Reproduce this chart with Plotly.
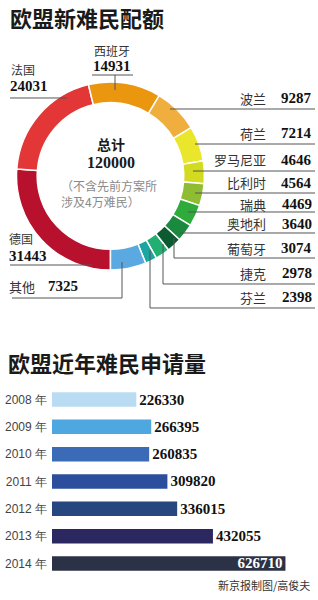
import plotly.graph_objects as go

# ---------------- data ----------------
quota_countries = ["德国", "法国", "西班牙", "波兰", "荷兰", "罗马尼亚", "比利时",
                   "瑞典", "奥地利", "葡萄牙", "捷克", "芬兰", "其他"]
quota_values = [31443, 24031, 14931, 9287, 7214, 4646, 4564, 4469, 3640, 3074, 2978, 2398, 7325]
quota_colors = ["#B8112D", "#E23736", "#EB960F", "#F0AE3F", "#E9E62C", "#D2DB1F", "#8EBD33",
                "#2FAB3C", "#198A3E", "#0C5A2F", "#21AF72", "#1CA6A2", "#5AA9E0"]
quota_total = 120000

years = ["2008 年", "2009 年", "2010 年", "2011 年", "2012 年", "2013 年", "2014 年"]
applications = [226330, 266395, 260835, 309820, 336015, 432055, 626710]
bar_colors = ["#B9DCF3", "#4FA7DF", "#3B6BB6", "#2B4F9C", "#25467F", "#2A2761", "#2C3246"]

# ---------------- layout helpers ----------------
W, H = 318, 600


def px(x):
    return x / W


def py(y):
    return 1 - y / H


CJK = "Noto Sans CJK SC"
SERIF = "Liberation Serif"
LINE_COL = "#555555"

fig = go.Figure()

# donut: center (110.5, 176), outer radius 94
cx, cy, R = 110.5, 176, 94
fig.add_trace(go.Pie(
    labels=quota_countries, values=quota_values,
    marker=dict(colors=quota_colors, line=dict(color="white", width=1.5)),
    hole=0.78, sort=False, direction="clockwise", rotation=180,
    textinfo="none", hoverinfo="label+value", showlegend=False,
    domain=dict(x=[px(cx - R), px(cx + R)], y=[py(cy + R), py(cy - R)]),
))

# bar chart
fig.add_trace(go.Bar(
    x=applications, y=years, orientation="h",
    marker=dict(color=bar_colors, line=dict(width=0)),
    width=0.53,
    text=[str(v) for v in applications],
    textposition=["outside"] * 6 + ["inside"],
    insidetextanchor="end", constraintext="none",
    textfont=dict(family=SERIF, size=15, weight="bold",
                  color=["#111111"] * 6 + ["#FFFFFF"]),
    cliponaxis=False, showlegend=False, xaxis="x", yaxis="y",
))

ann = []
shapes = []


def text(x, y, s, size=13, color="#333333", family=CJK, xanchor="left", bold=False, align="left"):
    ann.append(dict(x=px(x), y=py(y), xref="paper", yref="paper", text=s, showarrow=False,
                    xanchor=xanchor, yanchor="middle", align=align,
                    font=dict(family=family, size=size, color=color,
                              weight="bold" if bold else "normal")))


def poly(points):
    path = "M " + " L ".join(f"{px(x):.5f},{py(y):.5f}" for x, y in points)
    shapes.append(dict(type="path", xref="paper", yref="paper", path=path,
                       line=dict(color=LINE_COL, width=1)))


# titles
text(8, 17, "欧盟新难民配额", size=22, color="#1a1a1a", bold=True)
text(6, 362, "欧盟近年难民申请量", size=22, color="#1a1a1a", bold=True)
text(312, 585, "新京报制图/高俊夫", size=11, color="#333333", xanchor="right")

# center text
text(110.5, 144, "总计", size=14, color="#1a1a1a", xanchor="center", bold=True)
text(110.5, 162, str(quota_total), size=16, color="#1a1a1a", family=SERIF, xanchor="center", bold=True)
text(59, 193, "（不含先前方案所<br>涉及4万难民）", size=12, color="#8a8a8a")

# right-side labels: (index, text y, leader polyline)
right_labels = [
    (3, 98, [(170, 109), (315, 109)]),
    (4, 133, [(195, 144), (315, 144)]),
    (5, 160, [(193, 171), (315, 171)]),
    (6, 183, [(195, 193), (315, 193)]),
    (7, 204, [(188, 212), (315, 212)]),
    (8, 224, [(180, 233), (315, 233)]),
    (9, 248, [(174, 238), (174, 258), (315, 258)]),
    (10, 273, [(163, 244), (163, 284), (315, 284)]),
    (11, 297, [(150, 250), (150, 308), (315, 308)]),
]
for i, ty, pts in right_labels:
    text(268, ty, quota_countries[i], size=13, xanchor="right")
    text(314, ty, str(quota_values[i]), size=15, color="#111111", family=SERIF, xanchor="right", bold=True)
    poly(pts)

# Spain
text(112, 50, quota_countries[2], size=12, xanchor="center")
text(112, 66, str(quota_values[2]), size=15, color="#111111", family=SERIF, xanchor="center", bold=True)
poly([(92, 75), (133, 75)])
poly([(115, 75), (115, 90)])

# France
text(9, 69, quota_countries[1], size=12)
text(8, 86, str(quota_values[1]), size=15, color="#111111", family=SERIF, bold=True)
poly([(10, 98), (67, 98)])

# Germany
text(7, 238, quota_countries[0], size=12)
text(7, 256, str(quota_values[0]), size=15, color="#111111", family=SERIF, bold=True)
poly([(10, 265), (92, 265)])

# Other
text(7, 286, quota_countries[12], size=13)
text(46, 286, str(quota_values[12]), size=15, color="#111111", family=SERIF, bold=True)
poly([(12, 298), (122, 298), (122, 262)])

# bar axes geometry: bar slots 27.33 px, first center at 399.5
slot = 27.33
top = 399.5 - slot / 2
bottom = top + slot * len(years)
x0 = 52
scale = 3.725e-4  # px per application
xmax = (W - x0) / scale

fig.update_layout(
    width=W, height=H, margin=dict(l=0, r=0, t=0, b=0),
    paper_bgcolor="white", plot_bgcolor="white",
    annotations=ann, shapes=shapes,
    xaxis=dict(domain=[px(x0), 1], range=[0, xmax], visible=False, fixedrange=True),
    yaxis=dict(domain=[py(bottom), py(top)], autorange="reversed", type="category",
               showgrid=False, zeroline=False, showline=False, ticks="",
               tickfont=dict(family="Liberation Sans", size=12, color="#444444"),
               ticklabelstandoff=4, automargin=False, fixedrange=True),
)

fig.write_html("out.html")
